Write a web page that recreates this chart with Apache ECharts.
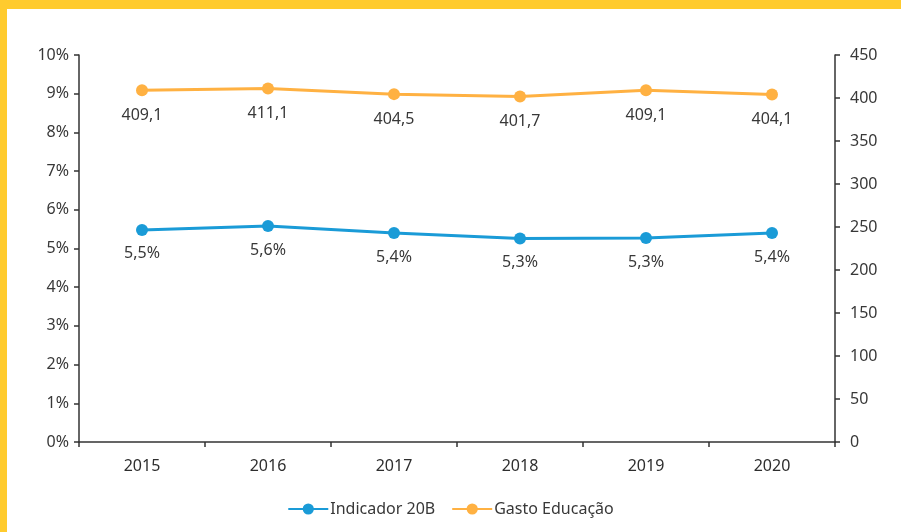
<!DOCTYPE html>
<html>
<head>
<meta charset="utf-8">
<script src="https://cdn.jsdelivr.net/npm/echarts@6/dist/echarts.min.js"></script>
<style>
  html, body { margin: 0; padding: 0; background: #fff; }
  #wrap { position: relative; width: 901px; height: 532px; background: #fff; overflow: hidden; }
  #topbar { position: absolute; left: 0; top: 0; width: 901px; height: 9px; background: #FFCB2E; }
  #leftbar { position: absolute; left: 0; top: 0; width: 7px; height: 532px; background: #FFCB2E; }
  #main { position: absolute; left: 0; top: 0; width: 901px; height: 532px; }
</style>
</head>
<body>
<div id="wrap">
  <div id="main"></div>
  <div id="topbar"></div>
  <div id="leftbar"></div>
</div>
<script>
var anos = ['2015', '2016', '2017', '2018', '2019', '2020'];
// Indicador 20B (% do PIB)
var indicador = [5.48, 5.58, 5.40, 5.26, 5.27, 5.40];
// Gasto Educação
var gasto = [409.1, 411.1, 404.5, 401.7, 409.1, 404.1];

var corTexto = '#383838';
var fonte = '"Noto Sans", sans-serif';

var myChart = echarts.init(document.getElementById('main'));

var option = {
    animation: false,
    textStyle: { fontFamily: fonte },
    grid: { left: 79, right: 66, top: 55, bottom: 90 },
    legend: {
        bottom: 10,
        left: 'center',
        itemWidth: 40,
        itemHeight: 14,
        itemGap: 16,
        textStyle: { color: corTexto, fontSize: 16, fontFamily: fonte, padding: [0, 0, 0, -3] },
        data: ['Indicador 20B', 'Gasto Educação']
    },
    xAxis: {
        type: 'category',
        data: anos,
        boundaryGap: true,
        axisLine: { lineStyle: { color: '#333', width: 1.5 } },
        axisTick: { show: true, length: 5, lineStyle: { color: '#333', width: 1.5 } },
        axisLabel: { color: '#2e2e2e', fontSize: 16, margin: 16 }
    },
    yAxis: [
        {
            type: 'value',
            min: 0,
            max: 10,
            interval: 1,
            axisLine: { show: true, lineStyle: { color: '#333', width: 1.5 } },
            axisTick: { show: true, length: 5, lineStyle: { color: '#333', width: 1.5 } },
            axisLabel: { color: corTexto, fontSize: 16, margin: 10, formatter: '{value}%' },
            splitLine: { show: false }
        },
        {
            type: 'value',
            min: 0,
            max: 450,
            interval: 50,
            position: 'right',
            axisLine: { show: true, lineStyle: { color: '#333', width: 1.5 } },
            axisTick: { show: true, length: 5, lineStyle: { color: '#333', width: 1.5 } },
            axisLabel: { color: corTexto, fontSize: 16, margin: 15 },
            splitLine: { show: false }
        }
    ],
    series: [
        {
            name: 'Indicador 20B',
            type: 'line',
            yAxisIndex: 0,
            data: indicador,
            symbol: 'circle',
            symbolSize: 12,
            color: '#1A9BD7',
            lineStyle: { width: 3, color: '#1A9BD7' },
            label: {
                show: true,
                position: 'bottom',
                distance: 10,
                color: corTexto,
                fontSize: 16,
                formatter: function (p) { return p.value.toFixed(1).replace('.', ',') + '%'; }
            }
        },
        {
            name: 'Gasto Educação',
            type: 'line',
            yAxisIndex: 1,
            data: gasto,
            symbol: 'circle',
            symbolSize: 12,
            color: '#FFB142',
            lineStyle: { width: 3, color: '#FFB142' },
            label: {
                show: true,
                position: 'bottom',
                distance: 11,
                color: corTexto,
                fontSize: 16,
                formatter: function (p) { return p.value.toFixed(1).replace('.', ','); }
            }
        }
    ]
};

myChart.setOption(option);
</script>
</body>
</html>
